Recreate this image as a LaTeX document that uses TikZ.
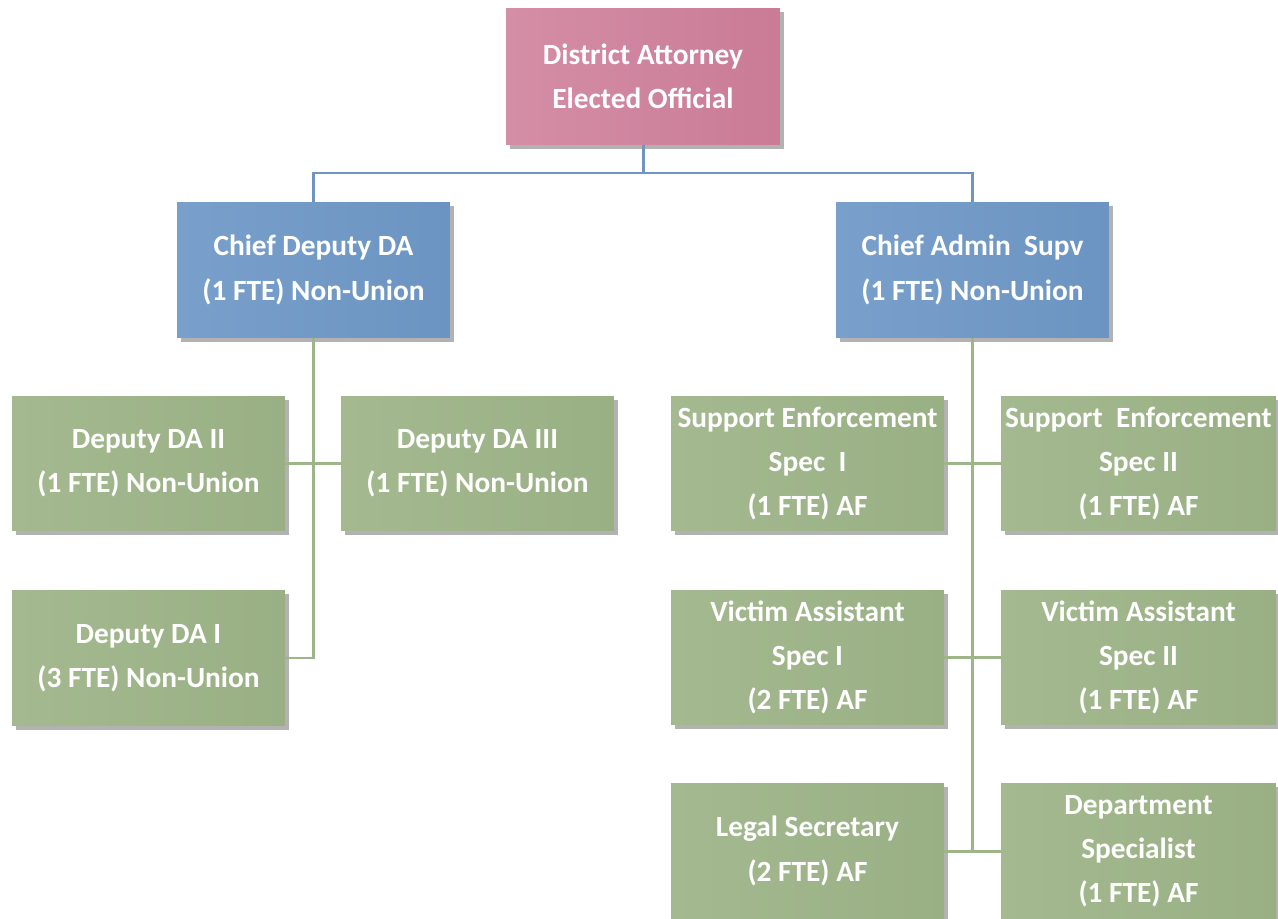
\documentclass[tikz,border=0pt]{standalone}
\usepackage{fontspec}
\setmainfont{Carlito}
\usetikzlibrary{shadows}
\definecolor{pinkL}{HTML}{D48EA6}
\definecolor{pinkR}{HTML}{CA7B96}
\definecolor{blueL}{HTML}{79A0CB}
\definecolor{blueR}{HTML}{6C94C2}
\definecolor{greenL}{HTML}{A4B98F}
\definecolor{greenR}{HTML}{99AF84}
\definecolor{bluewire}{HTML}{7195C0}
\definecolor{greenwire}{HTML}{9DB589}
\tikzset{
  box/.style={rectangle, minimum width=5.46cm, minimum height=2.72cm,
    inner sep=0pt, align=center, text=white,
    font=\fontsize{16.7}{25.2}\selectfont\bfseries,
    drop shadow={shadow xshift=2.5pt, shadow yshift=-2.5pt, opacity=0.3, fill=black}},
  topbox/.style={box, left color=pinkL, right color=pinkR},
  headbox/.style={box, left color=blueL, right color=blueR},
  staffbox/.style={box, left color=greenL, right color=greenR},
  bluelink/.style={draw=bluewire, line width=1.7pt},
  greenlink/.style={draw=greenwire, line width=1.7pt}
}
\begin{document}
\begin{tikzpicture}[x=0.02cm, y=-0.02cm]
\useasboundingbox (0,0) rectangle (1278,919);

% junction below the top box
\coordinate (bus) at (643,173);

% boxes
\node[topbox, minimum width=5.48cm, minimum height=2.74cm] (da) at (643,76.5)
  {District Attorney\\Elected Official};
\node[headbox] (cdd) at (313.5,270) {Chief Deputy DA\\(1 FTE) Non-Union};
\node[headbox] (cas) at (972.5,270) {Chief Admin\ \ Supv\\(1 FTE) Non-Union};

\node[staffbox, minimum height=2.7cm] (d2) at (148.5,463.5) {Deputy DA II\\(1 FTE) Non-Union};
\node[staffbox, minimum height=2.7cm] (d3) at (477.5,463.5) {Deputy DA III\\(1 FTE) Non-Union};
\node[staffbox] (d1) at (148.5,658) {Deputy DA I\\(3 FTE) Non-Union};

\node[staffbox, minimum height=2.7cm] (se1) at (807.5,463.5) {Support Enforcement\\Spec\ \ I\\(1 FTE) AF};
\node[staffbox, minimum height=2.7cm, minimum width=5.5cm] (se2) at (1138.5,463.5) {Support\ \ Enforcement\\Spec II\\(1 FTE) AF};
\node[staffbox, minimum height=2.7cm] (va1) at (807.5,657.5) {Victim Assistant\\Spec I\\(2 FTE) AF};
\node[staffbox, minimum height=2.7cm, minimum width=5.5cm] (va2) at (1138.5,657.5) {Victim Assistant\\Spec II\\(1 FTE) AF};
\node[staffbox] (ls) at (807.5,851) {Legal Secretary\\(2 FTE) AF};
\node[staffbox, minimum width=5.5cm] (ds) at (1138.5,851) {Department\\Specialist\\(1 FTE) AF};

% top level links
\draw[bluelink] (da.south) -- (bus);
\draw[bluelink] (cdd.north) |- (bus) -| (cas.north);

% left branch
\draw[greenlink] (cdd.south) |- (d1.east);
\draw[greenlink] (d2.east) -- (d3.west);

% right branch
\draw[greenlink] (cas.south) -- (cas.south |- ls.east);
\draw[greenlink] (se1.east) -- (se2.west);
\draw[greenlink] (va1.east) -- (va2.west);
\draw[greenlink] (ls.east) -- (ds.west);
\end{tikzpicture}
\end{document}
